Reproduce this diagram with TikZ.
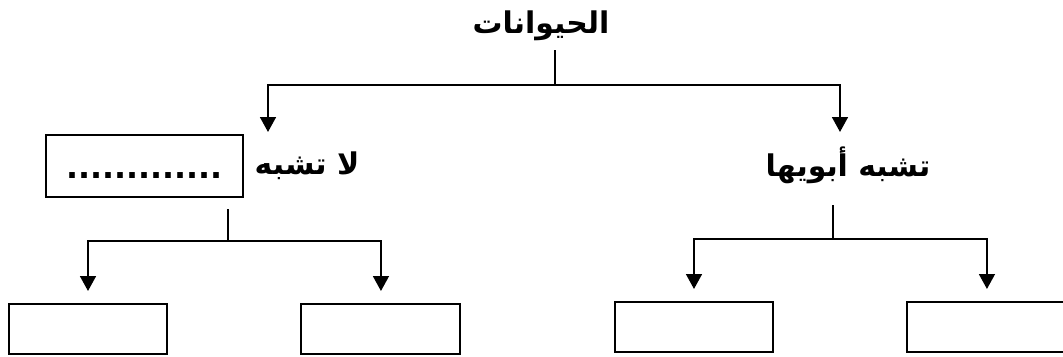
\documentclass[tikz,border=0pt]{standalone}
\usepackage{fontspec}
\usepackage{tikz}
\usetikzlibrary{positioning, arrows.meta}
\newfontfamily\arabicfont[Script=Arabic]{DejaVu Sans}
\TeXXeTstate=1

\begin{document}
\begin{tikzpicture}[x=0.02cm, y=-0.02cm, line width=1.15pt,
    every node/.style={font=\arabicfont\bfseries\fontsize{17}{20}\selectfont, inner sep=0pt},
    box/.style={draw, rectangle, minimum width=3.18cm, minimum height=1cm},
    arr/.style={-{Triangle[width=9pt,length=8.5pt]}}]

        \useasboundingbox (0,0) rectangle (1063,356);

        % Top of the tree
        \node (animals) at (541,26) {\beginR الحيوانات\endR};
        \coordinate (j0) at (555,85);
        \coordinate (t1) at (268,132);
        \coordinate (t2) at (840,132);

        % Second row
        \node (unlike) at (307,166) {\beginR لا تشبه\endR};
        \node (dots) [draw, minimum width=3.94cm, minimum height=1.24cm, text height=0.5cm,
            font=\arabicfont\bfseries\fontsize{18}{20}\selectfont, left=0.2cm of unlike] {.............};
        \node (like) at (848,165) {\beginR تشبه أبويها\endR};
        \coordinate (j1) at (228,241);
        \coordinate (j2) at (833,239);

        % Empty boxes
        \node (b1) [box] at (88,329) {};
        \node (b2) [box, right=2.64cm of b1] {};
        \node (b3) [box] at (694,327) {};
        \node (b4) [box, right=2.64cm of b3] {};

        % Lines and arrows
        \draw (animals.south -| j0) ++(0,8) -- (j0);
        \draw[arr] (j0) -| (t1);
        \draw[arr] (j0) -| (t2);
        \draw[shorten <=0.22cm] (dots.south -| j1) -- (j1);
        \draw[arr, shorten >=0.24cm] (j1) -| (b1.north);
        \draw[arr, shorten >=0.24cm] (j1) -| (b2.north);
        \draw[shorten <=0.42cm] (like.south -| j2) -- (j2);
        \draw[arr, shorten >=0.24cm] (j2) -| (b3.north);
        \draw[arr, shorten >=0.24cm] (j2) -| (b4.north);

\end{tikzpicture}
\end{document}
